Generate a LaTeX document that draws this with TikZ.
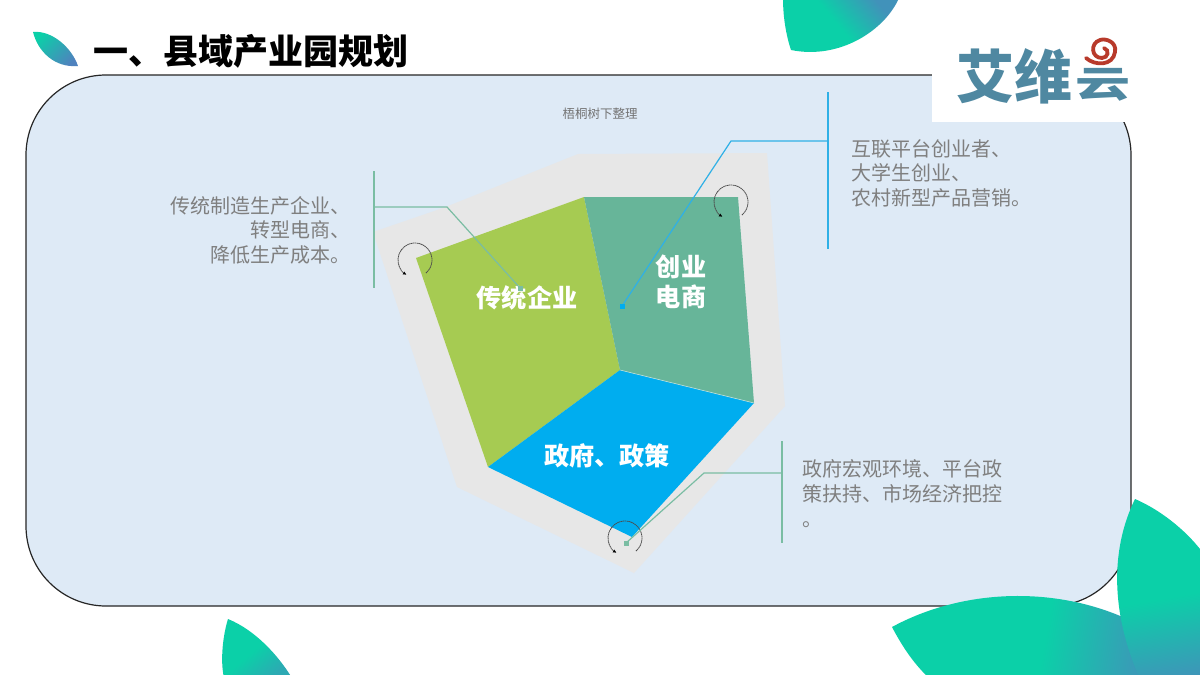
\documentclass[tikz,border=0pt]{standalone}
\usepackage{fontspec}
\setmainfont{Noto Sans CJK SC}
\usetikzlibrary{arrows.meta}
\definecolor{panelfill}{HTML}{DEEAF6}
\definecolor{greybg}{HTML}{E7E7E7}
\definecolor{cgreen}{HTML}{A6CB52}
\definecolor{cteal}{HTML}{67B599}
\definecolor{cblue}{HTML}{00ADEF}
\definecolor{leafa}{HTML}{0BD0A8}
\definecolor{leafb}{HTML}{4F82BE}
\definecolor{greentxt}{HTML}{7F7F7F}
\definecolor{lineg}{HTML}{7ABDA3}
\definecolor{lineb}{HTML}{2FB0E6}
\definecolor{logoc}{HTML}{4F88A1}
\definecolor{logor}{HTML}{B83A2B}
\tikzset{
 leaf/.style={shading=axis,draw=none},
 inlabel/.style={text=white,font=\bfseries\fontsize{25.2}{30}\selectfont,align=center,inner sep=0pt},
 desc/.style={text=greentxt,font=\fontsize{20}{24.5}\selectfont,inner sep=0pt},
 spin/.style={draw=black!70,line width=0.8pt,dash pattern=on 1.5pt off 0.5pt,-{Latex[length=3.5pt,width=3.5pt,black]}},
 legg/.style={draw=lineg,line width=1.2pt},
 legb/.style={draw=lineb,line width=1.2pt},
 logotext/.style={text=logoc,font=\bfseries\fontsize{58}{58}\selectfont,inner sep=0pt},
}
\begin{document}
\begin{tikzpicture}[x=1pt,y=-1pt]
\useasboundingbox (0,0) rectangle (1200,675);
\begin{scope}
\clip (0,0) rectangle (1200,675);
\fill[white] (0,0) rectangle (1200,675);
% panel
\path[fill=panelfill,draw=black!85,line width=1.2pt,rounded corners=80pt] (26,75) rectangle (1131,606);
% top leaf
\path[leaf,top color=leafa,bottom color=leafb!80!leafa,middle color=leafa,shading angle=130] (783,-2) .. controls (783,20) and (787,38) .. (791,50) .. controls (840,60) and (885,30) .. (899,-2) -- cycle;
% logo background
\fill[white] (932,22) rectangle (1154,122);
\node[logotext,anchor=east] (logo) at (1073,76) {艾维};
\node[logotext,xscale=.95,yscale=.63,transform shape] (logob) at (1103,85) {云};
\draw[logor,line width=3.8pt,line cap=round] (1086,58) .. controls (1095,66) and (1113,66) .. (1115,52) .. controls (1117,42) and (1106,38) .. (1100,40) .. controls (1090,43) and (1091,58) .. (1102,58) .. controls (1108,58) and (1110,50) .. (1104,48);
% title
\path[leaf,top color=leafa,bottom color=leafb,shading angle=45] (33,32) .. controls (52,30) and (72,48) .. (78,66) .. controls (55,68) and (38,52) .. (33,32) -- cycle;
\node[anchor=west,inner sep=0pt,font=\bfseries\fontsize{35}{35}\selectfont] (title) at (93,51) {一、县域产业园规划};
\node[text=black!55,font=\fontsize{12.5}{14}\selectfont,inner sep=0pt] (src) at (600,114) {梧桐树下整理};
% diagram
\fill[greybg] (373,232) -- (443,208) -- (578,154) -- (767,153) -- (785,406) -- (634,573) -- (457,487) -- cycle;
\coordinate (ctr) at (620,370);
\fill[cgreen] (416,258) -- (584,197) -- (ctr) -- (488,467) -- cycle;
\fill[cteal] (584,197) -- (738,197) -- (754,403) -- (ctr) -- cycle;
\fill[cblue] (ctr) -- (754,403) -- (632,537) -- (488,467) -- cycle;
\draw[white!60!cteal,line width=0.6pt] (ctr) -- (754,403);
\node[inlabel] (n1) at (527,298) {传统企业};
\node[inlabel] (n2) at (681,282) {创业\\电商};
\node[inlabel] (n3) at (607,456) {政府、政策};
% spin arrows
\draw[spin] (415,260) ++(-50:17pt) arc[start angle=-50,end angle=240,radius=17pt];
\draw[spin] (731,202) ++(-50:17pt) arc[start angle=-50,end angle=240,radius=17pt];
\draw[spin] (625,538) ++(-50:17pt) arc[start angle=-50,end angle=240,radius=17pt];
% left leader
\coordinate (a1) at (374,171);
\coordinate (a2) at (374,288);
\coordinate (a3) at (374,207);
\coordinate (a4) at (447,207);
\coordinate (a5) at (520,288);
\draw[legg] (a1) -- (a2);
\draw[legg] (a3) -- (a4) -- (a5);
\fill[lineg] (a5) ++(-2.5,-2.5) rectangle ++(5,5);
% right leader
\coordinate (b1) at (828,92);
\coordinate (b2) at (828,249);
\coordinate (b3) at (828,141);
\coordinate (b4) at (731,141);
\coordinate (b5) at (622,306);
\draw[legb] (b1) -- (b2);
\draw[legb] (b3) -- (b4) -- (b5);
\fill[cblue] (b5) ++(-2.5,-2.5) rectangle ++(5,5);
% bottom leader
\coordinate (c1) at (782,441);
\coordinate (c2) at (782,543);
\coordinate (c3) at (782,473);
\coordinate (c4) at (704,473);
\coordinate (c5) at (626,543);
\draw[legg] (c1) -- (c2);
\draw[legg] (c3) -- (c4) -- (c5);
\fill[lineg] (c5) ++(-2.5,-2.5) rectangle ++(5,5);
% descriptions
\node[desc,anchor=north east,align=right] (d1) at (351,196) {传统制造生产企业、\\转型电商、\\降低生产成本。};
\node[desc,anchor=north west,align=left] (d2) at (851,139) {互联平台创业者、\\大学生创业、\\农村新型产品营销。};
\node[desc,anchor=north west,align=left,font=\fontsize{20}{25}\selectfont] (d3) at (802,459) {政府宏观环境、平台政\\策扶持、市场经济把控\\。};
% corner leaves
\path[leaf,top color=leafa,bottom color=leafb!50!leafa,middle color=leafa,shading angle=40] (228,619) .. controls (255,630) and (278,655) .. (292,678) -- (224,678) .. controls (220,660) and (223,635) .. (228,619) -- cycle;
\path[leaf,top color=leafa,bottom color=leafb,middle color=leafa,shading angle=80] (892,627) .. controls (960,590) and (1050,585) .. (1125,618) .. controls (1170,640) and (1190,660) .. (1200,678) -- (929,678) .. controls (915,665) and (903,648) .. (892,627) -- cycle;
\path[leaf,top color=leafa,bottom color=leafb!85!leafa,middle color=leafa,shading angle=10] (1135,499) .. controls (1165,512) and (1190,535) .. (1203,553) -- (1203,700) -- (1150,700) .. controls (1108,620) and (1110,550) .. (1135,499) -- cycle;
\end{scope}
\end{tikzpicture}
\end{document}
